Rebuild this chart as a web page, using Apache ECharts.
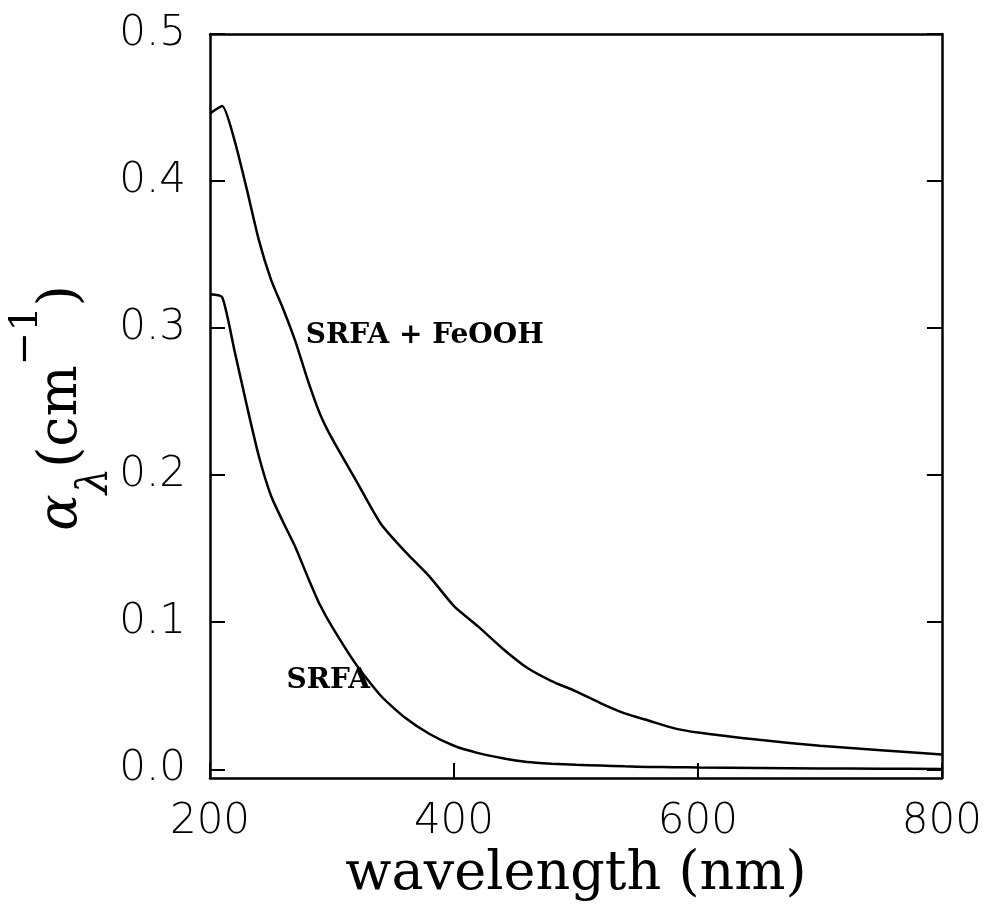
<!DOCTYPE html>
<html><head><meta charset="utf-8">
<script src="https://cdn.jsdelivr.net/npm/echarts@6/dist/echarts.min.js"></script>
<style>html,body{margin:0;padding:0;background:#fff}#c{width:985px;height:907px}</style>
</head><body><div id="c"></div>
<script>
// wavelength (nm) sample points
const wavelengths = [200,210,220,230,240,250,260,270,280,290,300,320,340,360,380,400,420,440,460,480,500,520,540,560,580,600,650,700,750,800];
// SRFA + FeOOH absorption coefficient (cm^-1)
const feoohValues = [0.446,0.451,0.428,0.395,0.360,0.333,0.313,0.291,0.265,0.242,0.225,0.196,0.167,0.148,0.131,0.111,0.097,0.082,0.069,0.060,0.053,0.045,0.038,0.033,0.028,0.025,0.020,0.016,0.013,0.010];
// SRFA absorption coefficient (cm^-1)
const srfaValues  = [0.323,0.321,0.285,0.248,0.213,0.186,0.168,0.151,0.131,0.112,0.097,0.071,0.050,0.035,0.024,0.016,0.011,0.0075,0.005,0.0038,0.003,0.0025,0.002,0.0016,0.0014,0.0012,0.0009,0.0006,0.0004,0.0002];
const yTicks = [0.0,0.1,0.2,0.3,0.4,0.5];
const xTicks = [200,400,600,800];
const seriesNames = ['SRFA + FeOOH','SRFA'];
const labelPos = { feooh: [376, 0.295], srfa: [297, 0.060] };

const chart = echarts.init(document.getElementById('c'));
const pair = vals => wavelengths.map((w,i)=>[w, vals[i]]);
const lineW = 2.5;
const tickFont = {fontFamily:'DejaVu Sans', fontWeight:200, fontSize:42, color:'#000'};

chart.setOption({
  animation:false,
  backgroundColor:'#fff',
  grid:{left:210, right:42, top:34, bottom:127},
  xAxis:[{
    type:'value', min:200, max:800, interval:200,
    name:'wavelength (nm)', nameLocation:'middle', nameGap:60,
    nameTextStyle:{fontFamily:'DejaVu Serif', fontSize:54, color:'#000'},
    axisLine:{onZero:false, lineStyle:{color:'#000', width:lineW}},
    axisTick:{inside:true, length:15, lineStyle:{color:'#000', width:2}},
    axisLabel:{...tickFont, margin:23, formatter:v=>String(v)},
    splitLine:{show:false}
  },{
    type:'value', min:200, max:800, position:'top',
    axisLine:{onZero:false, lineStyle:{color:'#000', width:lineW}},
    axisTick:{show:false}, axisLabel:{show:false}, splitLine:{show:false}
  }],
  yAxis:[{
    type:'value', min:-0.006, max:0.5,
    axisLine:{onZero:false, lineStyle:{color:'#000', width:lineW}},
    axisTick:{inside:true, length:15, customValues:yTicks, lineStyle:{color:'#000', width:2}},
    axisLabel:{...tickFont, margin:24, customValues:yTicks, formatter:v=>v.toFixed(1)},
    splitLine:{show:false}
  },{
    type:'value', min:-0.006, max:0.5, position:'right',
    axisLine:{onZero:false, lineStyle:{color:'#000', width:lineW}},
    axisTick:{inside:true, length:15, customValues:yTicks, lineStyle:{color:'#000', width:2}},
    axisLabel:{show:false}, splitLine:{show:false}
  }],
  graphic:[{
    type:'text', x:62, y:408, rotation:Math.PI/2, silent:true,
    style:{
      text:'{a|α}{s|λ}{p|(cm}{u|−1}{p|)}',
      align:'center', verticalAlign:'middle', fill:'#000',
      rich:{
        a:{fontFamily:'DejaVu Serif', fontStyle:'italic', fontSize:54, lineHeight:110, fill:'#000'},
        s:{fontFamily:'DejaVu Serif', fontStyle:'italic', fontSize:42, lineHeight:56, verticalAlign:'bottom', fill:'#000'},
        p:{fontFamily:'DejaVu Serif', fontSize:54, lineHeight:110, fill:'#000'},
        u:{fontFamily:'DejaVu Serif', fontSize:40, lineHeight:36, verticalAlign:'top', fill:'#000'}
      }
    }
  }],
  series:[{
    name:seriesNames[0], type:'line', data:pair(feoohValues), smooth:0.2,
    showSymbol:false, lineStyle:{color:'#000', width:lineW}, silent:true,
    markPoint:{symbolSize:0, silent:true, data:[{coord:labelPos.feooh, value:seriesNames[0]}],
      label:{show:true, position:'inside', formatter:seriesNames[0], fontFamily:'DejaVu Serif', fontWeight:'bold', fontSize:28, color:'#000'}}
  },{
    name:seriesNames[1], type:'line', data:pair(srfaValues), smooth:0.2,
    showSymbol:false, lineStyle:{color:'#000', width:lineW}, silent:true,
    markPoint:{symbolSize:0, silent:true, data:[{coord:labelPos.srfa, value:seriesNames[1]}],
      label:{show:true, position:'inside', formatter:seriesNames[1], fontFamily:'DejaVu Serif', fontWeight:'bold', fontSize:28, color:'#000'}}
  }]
});
</script></body></html>
